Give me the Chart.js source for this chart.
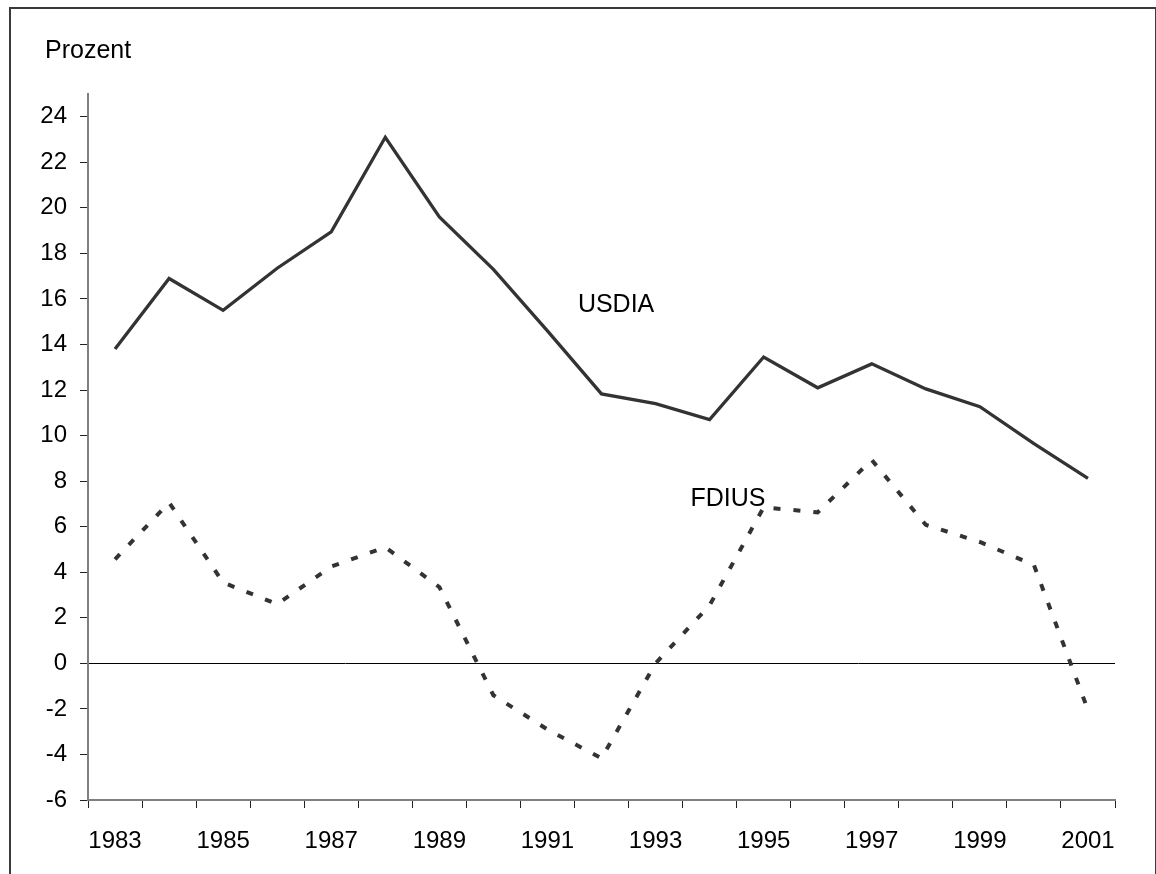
<!DOCTYPE html>
<html>
<head>
<meta charset="utf-8">
<script src="https://cdn.jsdelivr.net/npm/chart.js@4/dist/chart.umd.min.js"></script>
<style>
    body { margin: 0; background: #fff; }
    #wrap { position: relative; width: 1156px; height: 874px; overflow: hidden; }
    #frame {
        position: absolute; left: 9px; top: 7px; width: 1144px; height: 900px;
        border: 2px solid #3a3a3a; border-right-width: 1px; pointer-events: none;
    }
</style>
</head>
<body>
<div id="wrap">
    <canvas id="chart" width="1156" height="874"></canvas>
    <div id="frame"></div>
</div>
<script>
// DATA
const years = ["1983", "1984", "1985", "1986", "1987", "1988", "1989", "1990", "1991", "1992",
    "1993", "1994", "1995", "1996", "1997", "1998", "1999", "2000", "2001"];
const usdia = [13.8, 16.9, 15.5, 17.35, 18.95, 23.1, 19.6, 17.3, 14.6, 11.83,
    11.4, 10.7, 13.45, 12.1, 13.15, 12.05, 11.27, 9.65, 8.12];
const fdius = [4.57, 7.06, 3.55, 2.6, 4.25, 5.1, 3.35, -1.4, -2.9, -4.17,
    0.0, 2.55, 6.85, 6.63, 8.93, 6.08, 5.33, 4.32, -2.05];
const yTicks = [-6, -4, -2, 0, 2, 4, 6, 8, 10, 12, 14, 16, 18, 20, 22, 24];

const FONT = "Arial, 'Liberation Sans', sans-serif";

// TEXT LABELS (SERIES NAMES IN DATA UNITS, UNIT LABEL IN PIXELS)
const textLabels = {
    id: "textLabels",
    afterDraw(chart) {
        const ctx = chart.ctx;
        const x = chart.scales.x;
        const y = chart.scales.y;
        ctx.save();
        ctx.fillStyle = "#000";
        ctx.font = "25px " + FONT;
        ctx.textBaseline = "alphabetic";
        ctx.textAlign = "left";
        ctx.fillText("Prozent", 45, 58);
        ctx.textAlign = "center";
        ctx.fillText("USDIA", x.getPixelForValue(9.27), y.getPixelForValue(15.43));
        ctx.fillText("FDIUS", x.getPixelForValue(11.34), y.getPixelForValue(6.91));
        ctx.restore();
    }
};

new Chart(document.getElementById("chart"), {
    type: "line",
    data: {
        labels: years,
        datasets: [
            {
                label: "USDIA",
                data: usdia,
                borderColor: "#333",
                borderWidth: 3.3,
                pointRadius: 0,
                tension: 0
            },
            {
                label: "FDIUS",
                data: fdius,
                borderColor: "#333",
                borderWidth: 4,
                borderDash: [7, 13],
                borderCapStyle: "butt",
                pointRadius: 0,
                tension: 0
            }
        ]
    },
    options: {
        responsive: false,
        animation: false,
        layout: { padding: { top: 94, right: 41, left: 0, bottom: 0 } },
        plugins: {
            legend: { display: false },
            tooltip: { enabled: false }
        },
        scales: {
            x: {
                offset: true,
                grid: {
                    offset: true,
                    drawOnChartArea: false,
                    tickLength: 8,
                    tickColor: "#222"
                },
                border: { color: "#808080", width: 2 },
                ticks: {
                    autoSkip: false,
                    maxRotation: 0,
                    padding: 19,
                    color: "#000",
                    font: { family: FONT, size: 24 },
                    callback: (v, i) => (i % 2 === 0 ? years[i] : "")
                },
                afterFit: s => { s.height = 74; }
            },
            y: {
                min: -6,
                max: 25,
                grid: {
                    color: c => (c.tick && c.tick.value === 0 ? "#000" : "rgba(0,0,0,0)"),
                    tickColor: "#222",
                    tickLength: 8,
                    lineWidth: 1
                },
                border: { color: "#808080", width: 2 },
                ticks: {
                    padding: 13,
                    color: "#000",
                    font: { family: FONT, size: 24 }
                },
                afterBuildTicks: s => { s.ticks = yTicks.map(v => ({ value: v })); },
                afterFit: s => { s.width = 88; }
            }
        }
    },
    plugins: [textLabels]
});
</script>
</body>
</html>
